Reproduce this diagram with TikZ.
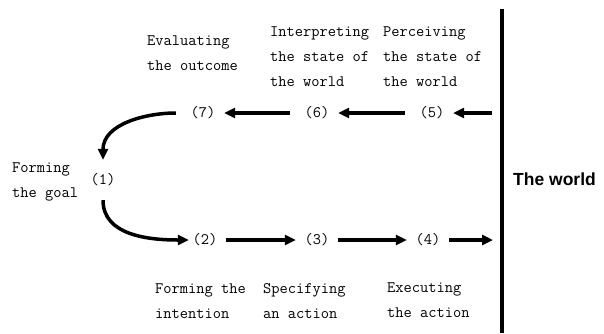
\documentclass[tikz,border=0pt]{standalone}
\usepackage{fontspec}
\newfontfamily\worldfont{Liberation Sans}
\usetikzlibrary{arrows.meta}
\begin{document}
\begin{tikzpicture}[x=1pt, y=-1pt,
    stage/.style={font=\ttfamily\fontsize{16}{25}\selectfont, inner sep=0pt, anchor=base west, align=left},
    num/.style={font=\ttfamily\fontsize{16}{25}\selectfont, minimum width=42pt, minimum height=40pt, inner sep=0pt},
    flow/.style={-{Triangle[length=11pt,width=10pt]}, line width=3.5pt}]
    \useasboundingbox (0,0) rectangle (604,333);

    % Grenze zur Welt
    \draw[line width=4pt] (502,9) coordinate (wtop) -- (502,333) coordinate (wbot);
    \node[font=\worldfont\bfseries\fontsize{17.5}{20}\selectfont, anchor=base west, inner sep=0pt] (world) at (513,185) {The world};

    % die sieben Stufen
    \node[num] (n1) at (103,180) {(1)};
    \node[num] (n2) at (205,240) {(2)};
    \node[num] (n3) at (317,240) {(3)};
    \node[num] (n4) at (428,240) {(4)};
    \node[num] (n5) at (432,113) {(5)};
    \node[num] (n6) at (317,113) {(6)};
    \node[num] (n7) at (203,113) {(7)};

    % freie Enden an der Weltlinie
    \coordinate (in5) at (492,113);
    \coordinate (out4) at (493,240);

    % Beschriftungen (Anker = Grundlinie der letzten Zeile)
    \node[stage] (evaluate) at (147,70) {Evaluating\\the outcome};
    \node[stage] (interpret) at (270,86) {Interpreting\\the state of\\the world};
    \node[stage] (perceive) at (383,86) {Perceiving\\the state of\\the world};
    \node[stage] (goal) at (12,197) {Forming\\the goal};
    \node[stage] (intention) at (155,318) {Forming the\\intention};
    \node[stage] (specify) at (263,318) {Specifying\\an action};
    \node[stage] (execute) at (387,317) {Executing\\the action};

    % Auswertung (oben, von rechts nach links)
    \draw[flow] (in5) -- (n5);
    \draw[flow, shorten <=6pt] (n5) -- (n6);
    \draw[flow, shorten <=6pt] (n6) -- (n7);
    \draw[flow, shorten <=6pt] (n7.west) to[out=180, in=90] (n1.north);

    % Ausfuehrung (unten, von links nach rechts)
    \draw[flow, shorten >=-5pt] (n1.south) to[out=270, in=180] (n2.west);
    \draw[flow] (n2) -- (n3);
    \draw[flow] (n3) -- (n4);
    \draw[flow] (n4) -- (out4);
\end{tikzpicture}
\end{document}
